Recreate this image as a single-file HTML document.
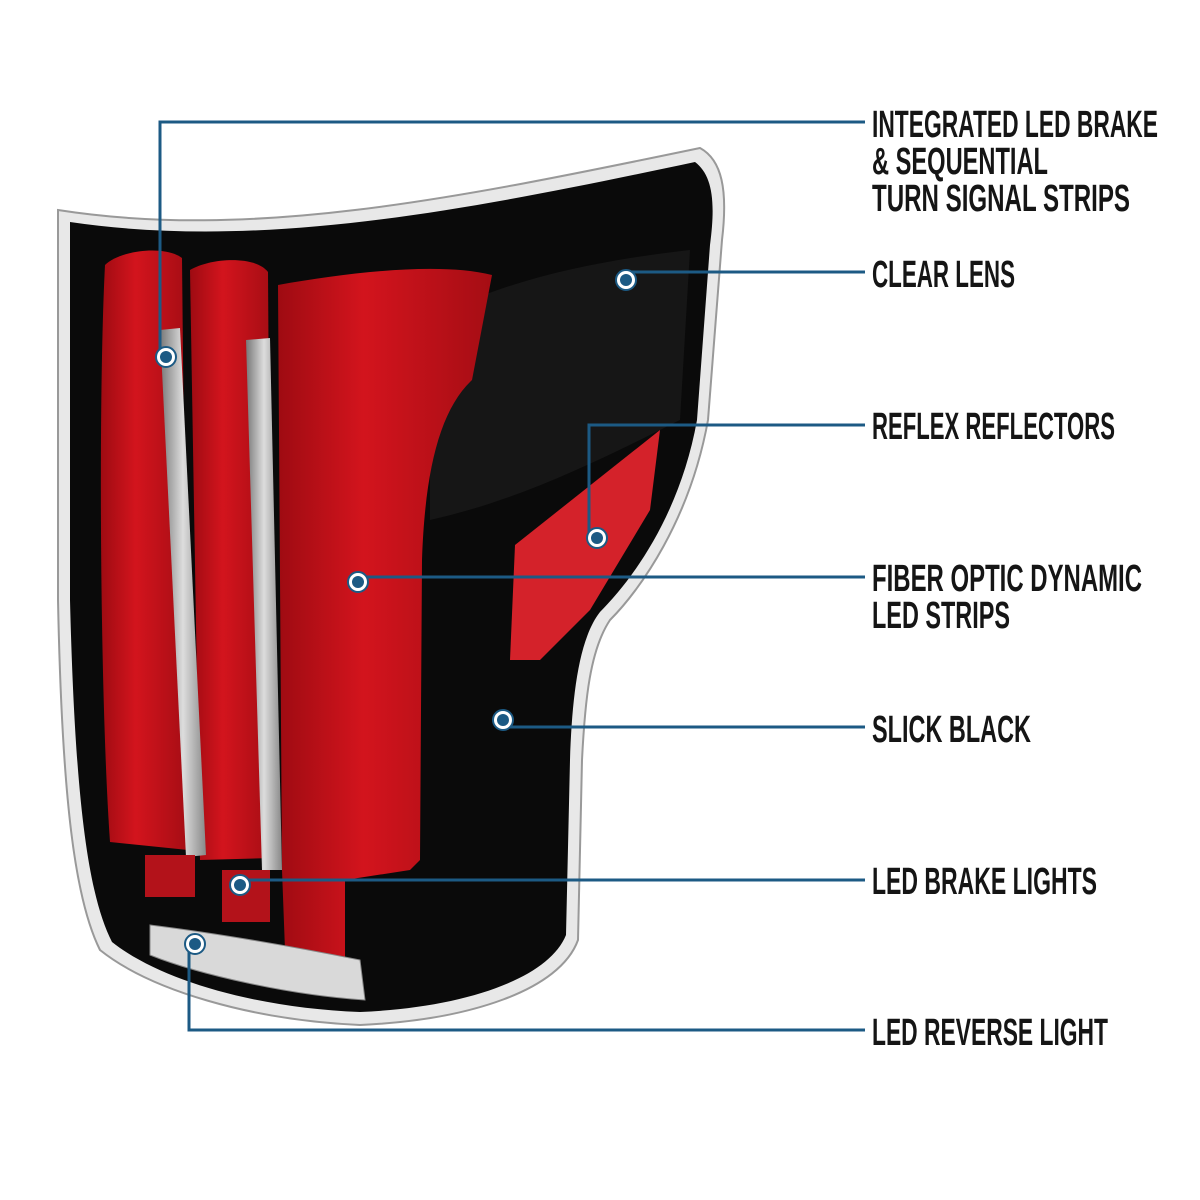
<!DOCTYPE html>
<html><head><meta charset="utf-8"><style>
html,body{margin:0;padding:0;background:#fff;width:1200px;height:1200px;overflow:hidden}
text{font-family:"Liberation Sans",sans-serif;font-weight:bold;font-size:38px;fill:#151515}
</style></head><body>
<svg width="1200" height="1200" viewBox="0 0 1200 1200" xmlns="http://www.w3.org/2000/svg">
<defs>
<linearGradient id="red" x1="0" x2="1"><stop offset="0" stop-color="#9e0b12"/><stop offset=".4" stop-color="#d3141d"/><stop offset="1" stop-color="#a50d14"/></linearGradient>
<linearGradient id="silver" x1="0" x2="1"><stop offset="0" stop-color="#777"/><stop offset=".5" stop-color="#ddd"/><stop offset="1" stop-color="#888"/></linearGradient>
</defs>
<path d="M58,210 C250,240 450,200 700,148 C722,160 728,190 722,240 L708,420 C690,520 640,590 610,620 C590,650 585,700 582,760 L578,940 C560,990 470,1020 360,1025 C250,1020 150,990 100,950 C75,900 62,800 58,600 Z" fill="#e8e8e8" stroke="#999" stroke-width="2"/>
<path d="M70,222 C260,250 460,212 695,162 C712,175 716,200 710,245 L697,420 C680,515 632,580 600,612 C578,640 572,700 570,760 L566,935 C548,980 460,1008 360,1012 C255,1008 160,980 112,942 C88,895 75,800 70,600 Z" fill="#0a0a0a"/>
<path d="M430,320 C500,280 600,260 690,250 L680,420 C600,460 520,500 430,520 Z" fill="#161616"/>
<path d="M105,265 C120,250 165,245 182,258 L188,850 L110,842 C100,700 98,400 105,265 Z" fill="url(#red)"/>
<path d="M190,270 C210,258 255,255 268,272 L272,858 L200,860 Z" fill="url(#red)"/>
<path d="M278,285 C350,272 440,262 492,275 L472,380 C440,410 425,470 422,560 L420,860 L410,870 L345,880 L345,958 C320,960 295,955 285,950 L282,870 Z" fill="url(#red)"/>
<path d="M160,330 L180,328 L206,855 L186,857 Z" fill="url(#silver)"/>
<path d="M246,340 L270,338 L282,870 L262,870 Z" fill="url(#silver)"/>
<path d="M515,545 L660,430 L650,510 L590,610 L540,660 L510,660 Z" fill="#d4222a"/>
<rect x="145" y="855" width="50" height="42" fill="#b3121a"/>
<rect x="222" y="870" width="48" height="52" fill="#b3121a"/>
<path d="M150,925 C230,935 310,950 360,960 L365,1000 C290,995 200,975 150,955 Z" fill="#d9d9d9" stroke="#888"/>
<g stroke="#1c5a84" stroke-width="3" fill="none">
<polyline points="160,357 160,122 865,122"/>
<line x1="626" y1="272" x2="865" y2="272"/>
<polyline points="589,538 589,425 865,425"/>
<line x1="358" y1="577" x2="865" y2="577"/>
<line x1="503" y1="727" x2="865" y2="727"/>
<line x1="240" y1="880" x2="865" y2="880"/>
<polyline points="189,944 189,1030 865,1030"/>
</g>
<g fill="#fff" stroke="#1c5a84" stroke-width="2">
<circle cx="166" cy="357" r="10"/><circle cx="626" cy="280" r="10"/><circle cx="597" cy="538" r="10"/>
<circle cx="358" cy="582" r="10"/><circle cx="503" cy="720" r="10"/><circle cx="240" cy="885" r="10"/><circle cx="195" cy="944" r="10"/>
</g>
<g fill="#1c5a84">
<circle cx="166" cy="357" r="6"/><circle cx="626" cy="280" r="6"/><circle cx="597" cy="538" r="6"/>
<circle cx="358" cy="582" r="6"/><circle cx="503" cy="720" r="6"/><circle cx="240" cy="885" r="6"/><circle cx="195" cy="944" r="6"/>
</g>
<text x="872" y="137" textLength="286" lengthAdjust="spacingAndGlyphs">INTEGRATED LED BRAKE</text>
<text x="872" y="174" textLength="176" lengthAdjust="spacingAndGlyphs">&amp; SEQUENTIAL</text>
<text x="872" y="211" textLength="258" lengthAdjust="spacingAndGlyphs">TURN SIGNAL STRIPS</text>
<text x="872" y="287" textLength="143" lengthAdjust="spacingAndGlyphs">CLEAR LENS</text>
<text x="872" y="439" textLength="243" lengthAdjust="spacingAndGlyphs">REFLEX REFLECTORS</text>
<text x="872" y="591" textLength="270" lengthAdjust="spacingAndGlyphs">FIBER OPTIC DYNAMIC</text>
<text x="872" y="628" textLength="138" lengthAdjust="spacingAndGlyphs">LED STRIPS</text>
<text x="872" y="742" textLength="159" lengthAdjust="spacingAndGlyphs">SLICK BLACK</text>
<text x="872" y="894" textLength="225" lengthAdjust="spacingAndGlyphs">LED BRAKE LIGHTS</text>
<text x="872" y="1045" textLength="236" lengthAdjust="spacingAndGlyphs">LED REVERSE LIGHT</text>
</svg>
</body></html>
